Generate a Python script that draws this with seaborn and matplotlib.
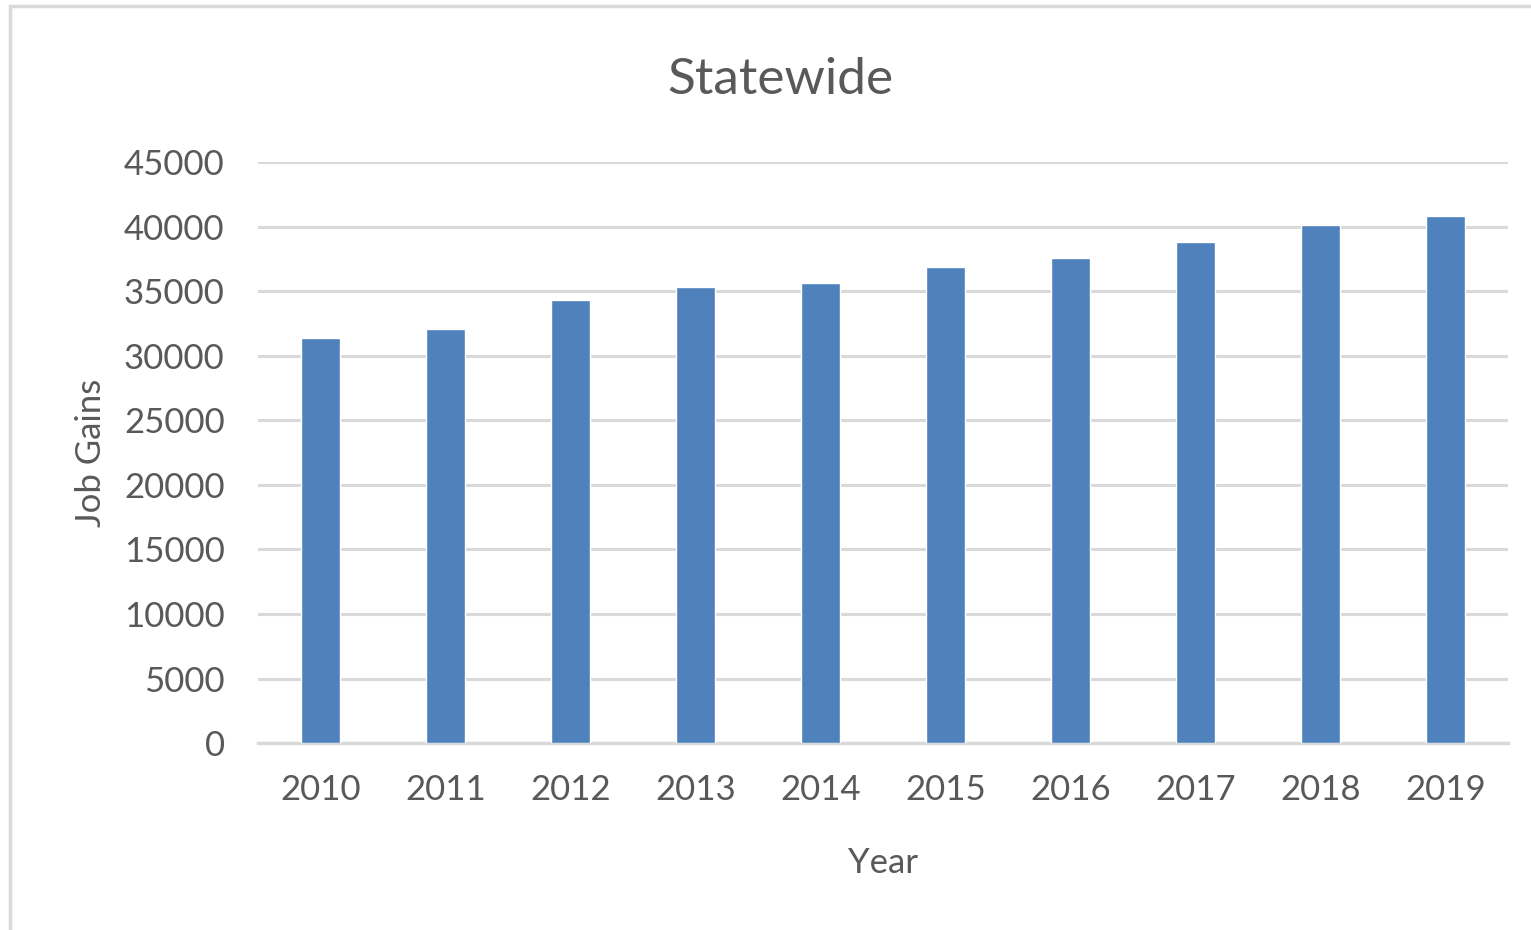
import matplotlib
matplotlib.use("Agg")
import matplotlib.pyplot as plt
import seaborn as sns
import pandas as pd
from matplotlib.patches import Rectangle

years = ["2010", "2011", "2012", "2013", "2014", "2015", "2016", "2017", "2018", "2019"]
job_gains = [31400, 32100, 34300, 35300, 35600, 36900, 37600, 38800, 40100, 40800]
y_ticks = [0, 5000, 10000, 15000, 20000, 25000, 30000, 35000, 40000, 45000]

df = pd.DataFrame({"Year": years, "Job Gains": job_gains})

sns.set_style("white")
plt.rcParams['font.family'] = ['Lato', 'DejaVu Sans']
text_col = "#595959"
grid_col = "#D9D9D9"

fig = plt.figure(figsize=(15.31, 9.30), dpi=100)
ax = fig.add_axes([0.1685, 0.201, 0.8165, 0.6247])

sns.barplot(data=df, x="Year", y="Job Gains", color="#4F81BD", saturation=1,
            width=0.31, ax=ax, zorder=3)

ax.set_ylim(0, 45000)
ax.set_yticks(y_ticks)
ax.set_yticklabels([str(t) for t in y_ticks])
ax.set_xlim(-0.5, len(years) - 0.5)
ax.grid(axis="y", color=grid_col, linewidth=2.2, zorder=0)
ax.set_axisbelow(True)
for s in ["top", "right", "left"]:
    ax.spines[s].set_visible(False)
ax.spines["bottom"].set_color(grid_col)
ax.spines["bottom"].set_linewidth(2.5)
ax.tick_params(axis="both", length=0, labelsize=25, labelcolor=text_col)
ax.tick_params(axis="x", pad=22)
ax.tick_params(axis="y", pad=24)

fig.text(0.51, 0.914, "Statewide", fontsize=37, color=text_col, ha="center", va="center")
ax.set_xlabel("Year", fontsize=25, color=text_col, labelpad=30)
ax.set_ylabel("Job Gains", fontsize=25, color=text_col, labelpad=12)

fig.patches.append(Rectangle((0.0065, -0.01), 1.1, 1.004, transform=fig.transFigure,
                             fill=False, edgecolor=grid_col, linewidth=2.5))

fig.savefig("out.png", dpi=100)
